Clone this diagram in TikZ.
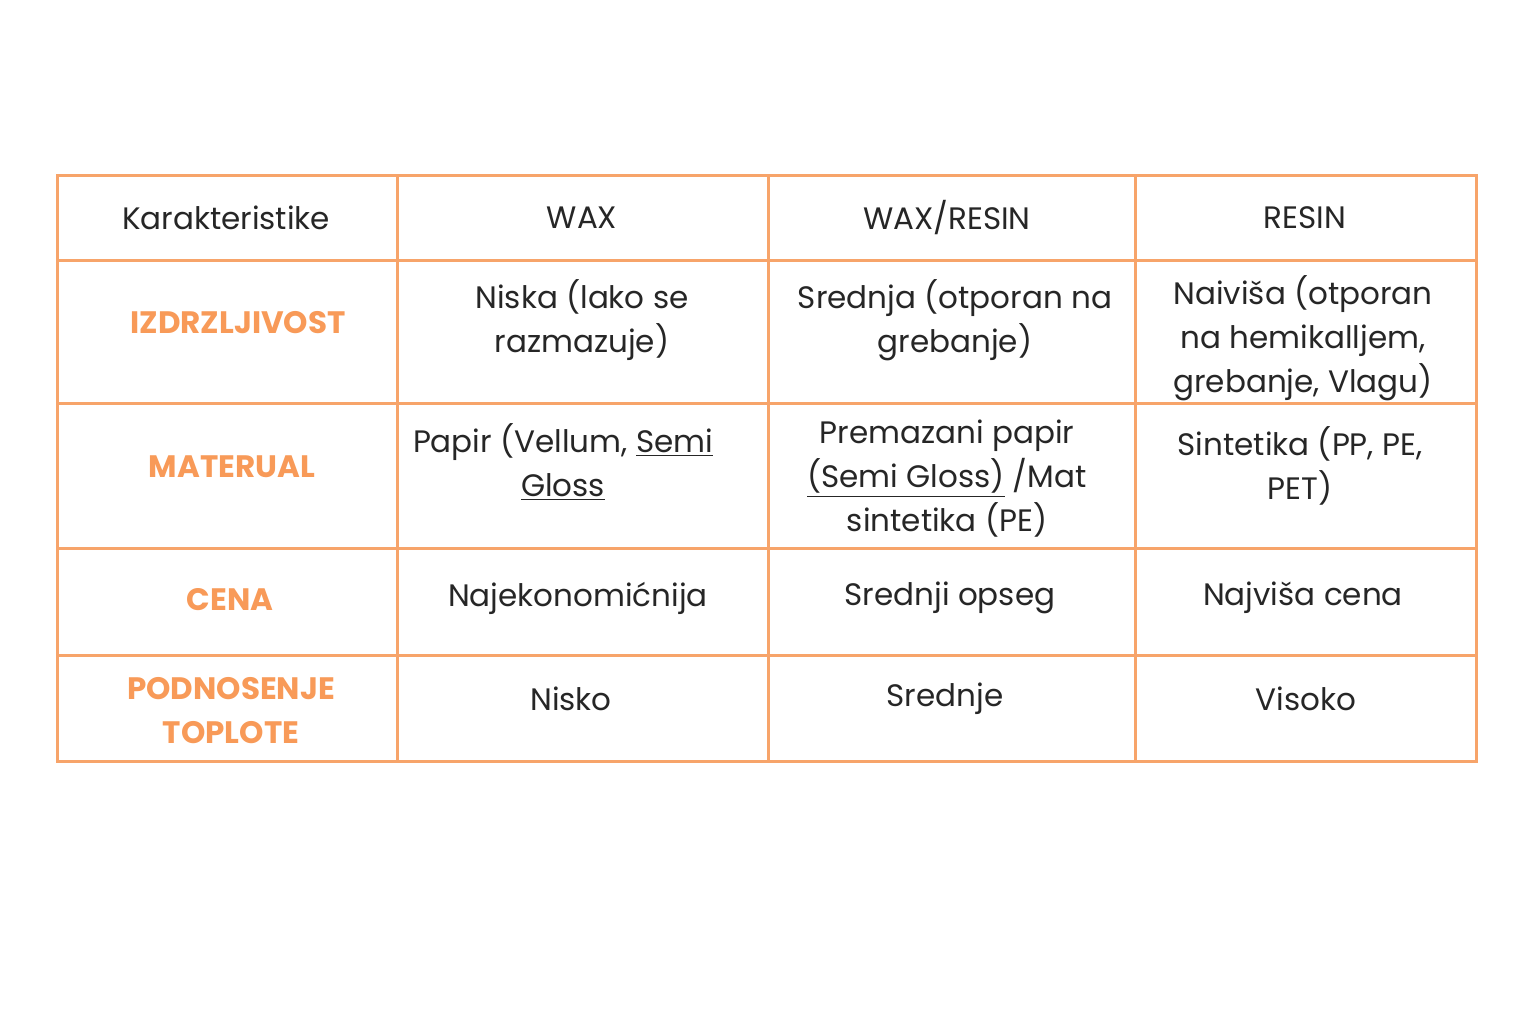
\documentclass[tikz,border=0pt]{standalone}
\usepackage{fontspec}
\setmainfont{Poppins}
\begin{document}
\begin{tikzpicture}[x=0.5pt,y=-0.5pt,
  grid/.style={draw=orangeline,line width=1.5pt},
  txt/.style={align=center,font=\fontsize{15.5}{22}\selectfont,text=black!85},
  hdr/.style={align=center,font=\fontsize{15.5}{22}\selectfont\bfseries,text=orangetxt}]
\definecolor{orangeline}{HTML}{F7A46A}
\definecolor{orangetxt}{HTML}{F89A58}
\useasboundingbox (0,0) rectangle (1536,1024);
\fill[white] (0,0) rectangle (1536,1024);
\draw[grid] (57,175) rectangle (1476,761);
\foreach \x in {397,768,1135} \draw[grid] (\x,175) -- (\x,761);
\foreach \y in {260,403,548,655} \draw[grid] (57,\y) -- (1476,\y);
\node[txt] (h0) at (226,218) {Karakteristike};
\node[txt] (h1) at (582,218) {WAX};
\node[txt] (h2) at (947,218) {WAX/RESIN};
\node[txt] (h3) at (1305,218) {RESIN};
\node[hdr] (r1) at (238,323) {IZDRZLJIVOST};
\node[txt] (c11) at (582,320) {Niska (lako se\\razmazuje)};
\node[txt] (c12) at (955,320) {Srednja (otporan na\\grebanje)};
\node[txt] (c13) at (1303,338) {Naiviša (otporan\\na hemikalljem,\\grebanje, Vlagu)};
\node[hdr] (r2) at (232,467) {MATERUAL};
\node[txt] (c21) at (563,462) {Papir (Vellum, \underline{Semi}\\\underline{Gloss}};
\node[txt] (c22) at (947,479) {Premazani papir\\\underline{(Semi Gloss)} /Mat\\sintetika (PE)};
\node[txt] (c23) at (1300,466) {Sintetika (PP, PE,\\PET)};
\node[hdr] (r3) at (230,600) {CENA};
\node[txt] (c31) at (578,598) {Najekonomićnija};
\node[txt] (c32) at (950,598) {Srednji opseg};
\node[txt] (c33) at (1303,598) {Najviša cena};
\node[hdr] (r4) at (231,711) {PODNOSENJE\\TOPLOTE};
\node[txt] (c41) at (571,699) {Nisko};
\node[txt] (c42) at (945,699) {Srednje};
\node[txt] (c43) at (1306,699) {Visoko};
\end{tikzpicture}
\end{document}
